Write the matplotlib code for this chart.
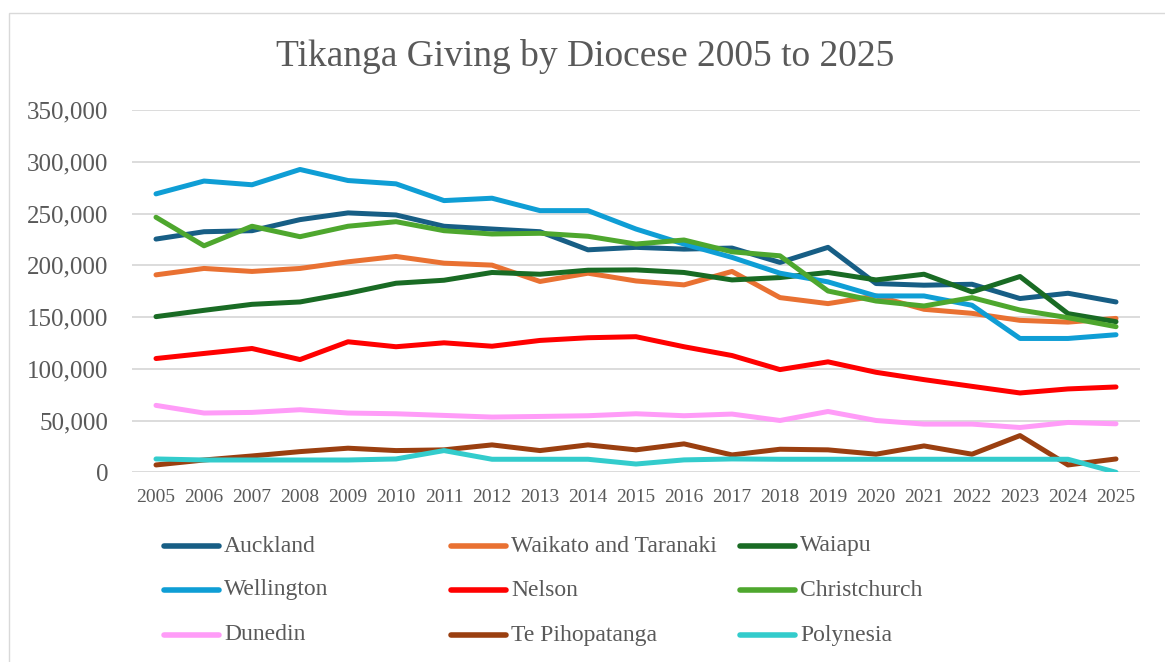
import numpy as np
import matplotlib.pyplot as plt
from matplotlib.lines import Line2D
from matplotlib.patches import Rectangle
from matplotlib.ticker import FuncFormatter

plt.rcParams['font.family'] = ['Liberation Serif', 'DejaVu Serif']

years = [str(y) for y in range(2005, 2026)]

# values (dollars)
auckland = [225500, 232600, 233600, 244300, 250800, 248800, 237900, 235200, 232600, 215100, 217500,
            215800, 216800, 202900, 217500, 182500, 180900, 181800, 168000, 173100, 164700]
waikato = [190900, 197100, 194200, 197100, 203500, 208700, 202200, 200300, 184500, 192500, 185000,
           181200, 194200, 168900, 163100, 170500, 157600, 153700, 146900, 145200, 148800]
waiapu = [150500, 156600, 162400, 164700, 173100, 182800, 185700, 193200, 191500, 195400, 195700,
          193200, 186000, 188300, 193200, 186000, 191500, 174400, 189300, 153400, 145600]
wellington = [269200, 281600, 278000, 292800, 282100, 278900, 262700, 265000, 253000, 253000, 235200,
              220700, 207800, 192500, 184100, 170500, 170500, 161500, 129400, 129400, 133000]
nelson = [110000, 114900, 119700, 109000, 126200, 121400, 125200, 121900, 127500, 130100, 131100,
          121400, 112900, 99300, 106800, 96700, 89600, 83100, 76700, 80600, 82500]
christchurch = [246600, 219000, 237900, 227800, 237900, 242300, 233600, 230400, 231100, 228200, 220700,
                224600, 213200, 209300, 175300, 165600, 160800, 168900, 156900, 149500, 140800]
dunedin = [64700, 57300, 57900, 60500, 57300, 56600, 55000, 53400, 54000, 54700, 56600,
           54700, 56300, 50100, 58800, 50100, 46600, 46600, 43300, 48200, 46900]
te_pihopatanga = [7100, 11900, 15800, 20000, 23300, 21000, 21700, 26500, 21000, 26500, 21700,
                  27500, 16800, 22300, 21700, 17500, 25500, 17500, 35500, 7100, 12900]
polynesia = [12900, 11900, 11900, 11900, 11900, 12900, 21000, 12600, 12600, 12600, 8000,
             12000, 12900, 12600, 12600, 12600, 12600, 12600, 12600, 12600, 0]

series = [
    ("Auckland", auckland, "#175E85"),
    ("Waikato and Taranaki", waikato, "#E97132"),
    ("Waiapu", waiapu, "#196B24"),
    ("Wellington", wellington, "#0F9ED5"),
    ("Nelson", nelson, "#FF0000"),
    ("Christchurch", christchurch, "#4EA72E"),
    ("Dunedin", dunedin, "#FF9CF8"),
    ("Te Pihopatanga", te_pihopatanga, "#9A3F10"),
    ("Polynesia", polynesia, "#33CCCC"),
]

W, H = 1165, 662
fig = plt.figure(figsize=(W / 100, H / 100), dpi=100)
ax = fig.add_axes([132 / W, 1 - 472.3 / H, 1008 / W, 362 / H])

x = np.arange(len(years))
for name, vals, col in series:
    ax.plot(x, vals, color=col, lw=3.6, solid_capstyle='round', solid_joinstyle='round')

ax.set_xlim(-0.5, len(years) - 0.5)
ax.set_ylim(0, 350000)
ax.set_yticks(range(0, 350001, 50000))
ax.yaxis.set_major_formatter(FuncFormatter(lambda v, p: f"{int(v):,}"))
ax.set_xticks(x)
ax.set_xticklabels(years)
ax.grid(axis='y', color='#D9D9D9', lw=1.3)
ax.set_axisbelow(True)
for s in ax.spines.values():
    s.set_visible(False)
ax.tick_params(axis='y', length=0, pad=17, labelsize=18, labelcolor='#595959')
ax.tick_params(axis='x', length=0, pad=12, labelsize=14, labelcolor='#595959')

fig.text(0.502, 1 - 56 / H, "Tikanga Giving by Diocese 2005 to 2025", ha='center', va='center',
         fontsize=27, color='#595959')

# legend, three columns like the Excel layout
col_x = [164, 451, 740]
row_y = [546, 590, 635]
for i, (name, vals, col) in enumerate(series):
    cx = col_x[i % 3]
    ry = 1 - row_y[i // 3] / H
    fig.add_artist(Line2D([cx / W, (cx + 55) / W], [ry, ry], color=col, lw=4,
                          solid_capstyle='round', transform=fig.transFigure))
    fig.text((cx + 60) / W, ry, name, ha='left', va='center', fontsize=17, color='#595959')

fig.add_artist(Rectangle((9 / W, -0.1), 1.2, 1 - 12.7 / H + 0.1, transform=fig.transFigure,
                         fill=False, edgecolor='#D9D9D9', lw=1))

fig.savefig("out.png", dpi=100)
